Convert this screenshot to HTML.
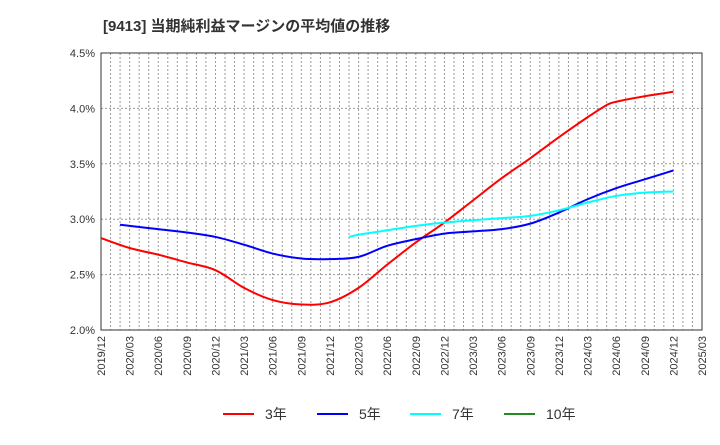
<!DOCTYPE html>
<html><head><meta charset="utf-8"><style>
body{margin:0;background:#fff;}
svg text{font-family:"Liberation Sans","Noto Sans CJK JP",sans-serif;}
</style></head><body>
<svg id="c" width="720" height="440" xmlns="http://www.w3.org/2000/svg">
<text x="103" y="31" font-size="15" font-weight="bold" fill="#333">[9413]  当期純利益マージンの平均値の推移</text>
<g id="grid"></g><g id="axes"></g><g id="series"></g>
<g id="legend"></g>
</svg>
<script>
const xLabels=["2019/12","2020/03","2020/06","2020/09","2020/12","2021/03","2021/06","2021/09","2021/12","2022/03","2022/06","2022/09","2022/12","2023/03","2023/06","2023/09","2023/12","2024/03","2024/06","2024/09","2024/12","2025/03"];
const yTicks=[2.0,2.5,3.0,3.5,4.0,4.5];
const yTickLabels=["2.0%","2.5%","3.0%","3.5%","4.0%","4.5%"];
const m3=[0,3,6,9,12,15,18,21,24,27,30,33,36,39,42,45,48,51,53,54,57,60];
const v3=[2.83,2.74,2.68,2.61,2.54,2.38,2.27,2.23,2.25,2.38,2.59,2.79,2.97,3.17,3.37,3.55,3.74,3.92,4.03,4.06,4.11,4.15];
const m5=[2,3,6,9,12,15,18,21,24,27,30,33,36,39,42,45,48,51,54,57,60];
const v5=[2.95,2.94,2.91,2.88,2.84,2.77,2.69,2.645,2.64,2.66,2.76,2.82,2.87,2.89,2.91,2.96,3.06,3.18,3.28,3.36,3.44];
const m7=[26,27,30,33,36,39,42,45,48,51,54,57,60];
const v7=[2.84,2.86,2.90,2.94,2.97,2.99,3.01,3.03,3.08,3.15,3.21,3.24,3.25];
const m10=[];const v10=[];
const L=101,R=702,T=53,B=330;
const x=m=>L+(R-L)*m/63;
const y=v=>B-(B-T)*(v-2)/2.5;
const NS="http://www.w3.org/2000/svg";
function mk(tag,attrs,parent){const e=document.createElementNS(NS,tag);for(const k in attrs)e.setAttribute(k,attrs[k]);document.getElementById(parent).appendChild(e);return e;}
for(let m=1;m<63;m++){const g=mk('line',{x1:x(m),x2:x(m),y1:T,y2:B,stroke:'#999','stroke-dasharray':'2,2','stroke-width':1},'grid');

}
yTicks.forEach((v,i)=>{if(i>0&&i<yTicks.length-1){const g=mk('line',{x1:L,x2:R,y1:y(v),y2:y(v),stroke:'#999','stroke-dasharray':'2,2'},'grid');

}
const t=mk('text',{x:L-6,y:y(v)+4,'text-anchor':'end','font-size':11,fill:'#333'},'axes');t.textContent=yTickLabels[i];

});
xLabels.forEach((s,i)=>{const xx=x(i*3);const t=mk('text',{x:0,y:0,'text-anchor':'end','font-size':11,fill:'#333',transform:`translate(${xx+4},${B+6}) rotate(-90)`},'axes');t.textContent=s;

});
const fr=mk('rect',{x:L,y:T,width:R-L,height:B-T,fill:'none',stroke:'#333','stroke-width':1},'axes');


function line(ms,vs,col,name){if(!ms.length)return;
const P=ms.map((m,i)=>[x(m),y(vs[i])]);
let d='M'+P[0][0]+','+P[0][1];
for(let i=0;i<P.length-1;i++){const p0=P[Math.max(i-1,0)],p1=P[i],p2=P[i+1],p3=P[Math.min(i+2,P.length-1)];
const c1=[p1[0]+(p2[0]-p0[0])/6,p1[1]+(p2[1]-p0[1])/6],c2=[p2[0]-(p3[0]-p1[0])/6,p2[1]-(p3[1]-p1[1])/6];
d+=` C${c1[0]},${c1[1]} ${c2[0]},${c2[1]} ${p2[0]},${p2[1]}`;}
const p=mk('path',{d:d,fill:'none',stroke:col,'stroke-width':2,'stroke-linejoin':'round'},'series');

}
line(m3,v3,'#ff0000','series-3yr');
line(m5,v5,'#0000ff','series-5yr');
line(m7,v7,'#00ffff','series-7yr');
line(m10,v10,'#228b22','series-10yr');
[["3年",'#ff0000',223],["5年",'#0000ff',317],["7年",'#00ffff',410],["10年",'#228b22',504]].forEach(([s,c,lx])=>{
const l=mk('line',{x1:lx,x2:lx+31,y1:414,y2:414,stroke:c,'stroke-width':2},'legend');


const t=mk('text',{x:lx+42,y:419,'font-size':14,fill:'#333'},'legend');t.textContent=s;

});
</script>
</body></html>
